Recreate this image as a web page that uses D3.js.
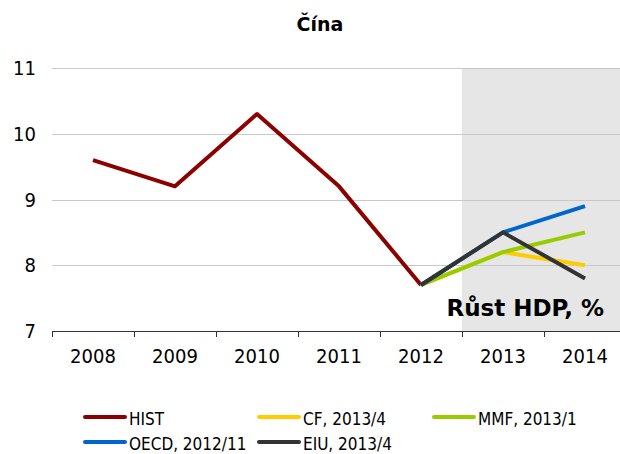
<!DOCTYPE html>
<html><head><meta charset="utf-8">
<script src="https://cdn.jsdelivr.net/npm/d3@7"></script>
<style>body{margin:0;background:#fff;} svg{display:block;}</style>
</head><body>
<svg id="c" width="620" height="454"></svg>
<script>
const years = ["2008","2009","2010","2011","2012","2013","2014"];
const yTicks = [7,8,9,10,11];
const hist = [9.6, 9.2, 10.3, 9.2, 7.7, null, null];
const cf   = [null, null, null, null, 7.7, 8.2, 8.0];
const mmf  = [null, null, null, null, 7.7, 8.2, 8.5];
const oecd = [null, null, null, null, 7.7, 8.5, 8.9];
const eiu  = [null, null, null, null, 7.7, 8.5, 7.8];
const seriesNames = ["HIST","CF, 2013/4","MMF, 2013/1","OECD, 2012/11","EIU, 2013/4"];
const seriesData = [hist, cf, mmf, oecd, eiu];
const colors = ["#8B0000","#FFCC00","#99CC00","#0066CC","#333333"];
const forecastStart = "2013";

const font = "'DejaVu Sans Condensed','DejaVu Sans',sans-serif";
const boldFont = "'DejaVu Sans',sans-serif";
const svg = d3.select("#c");
const x = d3.scaleBand().domain(years).range([52, 626]);
const y = d3.scaleLinear().domain([7, 11]).range([331, 68]);

// forecast shading
svg.append("rect").attr("x", x(forecastStart)).attr("y", y(11)).attr("width", 620 - x(forecastStart))
  .attr("height", y(7) - y(11)).attr("fill", "#e6e6e6");

// grid
svg.append("g").selectAll("line").data(yTicks.filter(d => d > 7)).join("line")
  .attr("x1", 52).attr("x2", 620).attr("y1", d => Math.round(y(d))+0.5).attr("y2", d => Math.round(y(d))+0.5)
  .attr("stroke", "#c8c8c8").attr("stroke-width", 1);

// y labels
svg.append("g").selectAll("text").data(yTicks).join("text")
  .attr("x", 36).attr("y", d => y(d)).attr("dy", "0.36em").attr("text-anchor", "end")
  .attr("font-family", font).attr("font-size", 20).attr("fill", "#000").text(d => d);

// x axis
const xAxis = d3.axisBottom(x).tickSize(0).tickPadding(25);
const gx = svg.append("g").attr("transform", `translate(0,${y(7)})`).call(xAxis);
gx.select(".domain").remove();
gx.selectAll("text").attr("font-family", font).attr("font-size", 20).attr("fill", "#000")
  .attr("dy", "0.36em");
svg.append("line").attr("x1", 52).attr("x2", 620).attr("y1", y(7)+0.5).attr("y2", y(7)+0.5)
  .attr("stroke", "#333").attr("stroke-width", 1);
svg.append("g").selectAll("line").data(years).join("line")
  .attr("x1", d => Math.round(x(d))+0.5).attr("x2", d => Math.round(x(d))+0.5)
  .attr("y1", y(7)).attr("y2", y(7)+6).attr("stroke", "#333");

// lines
const line = d3.line().defined(d => d != null).x((d, i) => x(years[i]) + x.bandwidth()/2).y(d => y(d));
seriesData.forEach((s, k) => {
  svg.append("path").datum(s).attr("d", line).attr("fill", "none")
    .attr("stroke", colors[k]).attr("stroke-width", 4).attr("stroke-linejoin", "round");
});

// title
svg.append("text").attr("x", 320).attr("y", 31).attr("text-anchor", "middle")
  .attr("font-family", boldFont).attr("font-weight", "bold").attr("font-size", 19).text("Čína");

// inner label
svg.append("text").attr("x", 604).attr("y", 316).attr("text-anchor", "end")
  .attr("font-family", boldFont).attr("font-weight", "bold").attr("font-size", 23).text("Růst HDP, %");

// legend
const legPos = [[84,417],[258,417],[433,417],[84,442],[258,442]];
const lg = svg.append("g").selectAll("g").data(seriesNames).join("g")
  .attr("transform", (d, i) => `translate(${legPos[i][0]},${legPos[i][1]})`);
lg.append("line").attr("x1", 1).attr("x2", 41).attr("stroke", (d, i) => colors[i])
  .attr("stroke-width", 4).attr("stroke-linecap", "round");
lg.append("text").attr("x", 45).attr("y", 7.5).attr("font-family", font)
  .attr("font-size", 17).attr("fill", "#000").text(d => d);
</script>
</body></html>
